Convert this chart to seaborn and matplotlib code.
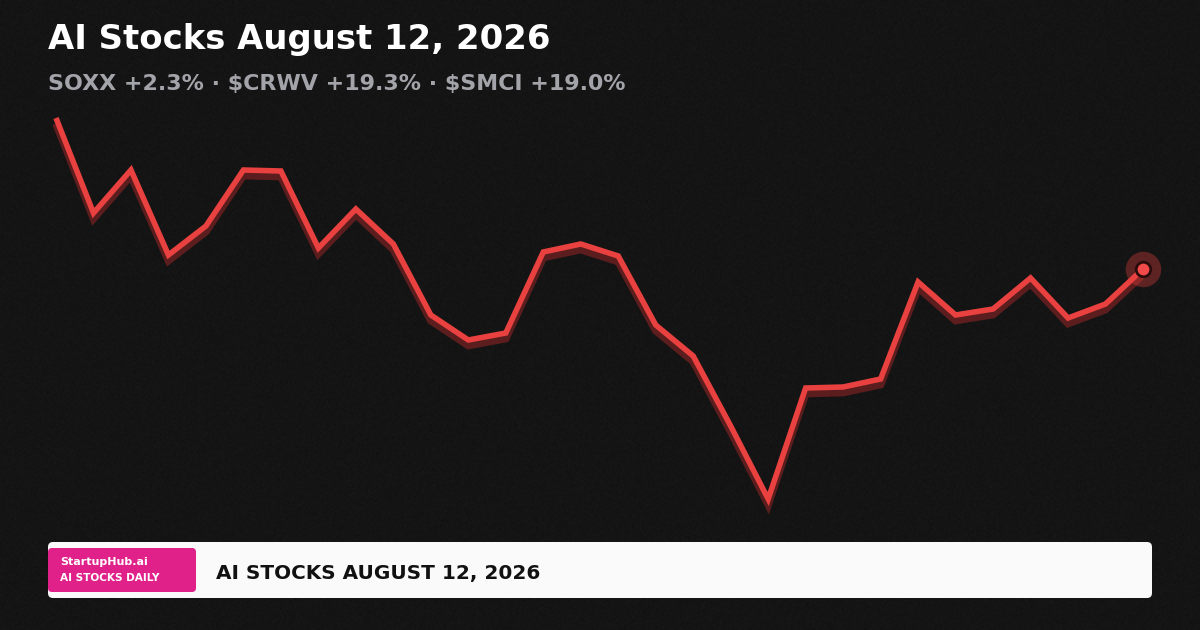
import numpy as np
import pandas as pd
import seaborn as sns
import matplotlib.pyplot as plt
import matplotlib.patheffects as pe
from matplotlib.patches import FancyBboxPatch

# chart data: 30 sessions, index level
session = list(range(1, 31))
level = [51.2, 41.7, 46.0, 37.5, 40.4, 46.0, 45.9, 38.2, 42.1, 38.6,
         31.5, 29.0, 29.7, 37.8, 38.6, 37.4, 30.5, 27.4, 20.4, 13.1,
         24.2, 24.3, 25.1, 34.8, 31.5, 32.1, 35.2, 31.2, 32.6, 36.1]

title = "AI Stocks August 12, 2026"
subtitle = "SOXX +2.3% · $CRWV +19.3% · $SMCI +19.0%"
footer = "AI STOCKS AUGUST 12, 2026"

bg = "#111111"
red = "#e8413f"

sns.set_theme(style="white")
plt.rcParams['font.family'] = ['DejaVu Sans']
plt.rcParams['text.parse_math'] = False

fig = plt.figure(figsize=(12, 6.3), dpi=100, facecolor=bg)

# faint grain on the background
bgax = fig.add_axes([0, 0, 1, 1], zorder=0)
rng = np.random.default_rng(3)
grain = rng.normal(0, 1, (315, 600))
bgax.imshow(grain, cmap="gray", alpha=0.035, aspect="auto", extent=[0, 1, 0, 1])
bgax.set_facecolor(bg)
bgax.axis("off")

df = pd.DataFrame({"session": session, "level": level})

# axes spanning x 56..1143 px, y 118..499 px (top-down)
ax = fig.add_axes([56 / 1200, 1 - 499 / 630, (1143 - 56) / 1200, (499 - 118) / 630], zorder=2)
ax.set_facecolor("none")
sns.lineplot(data=df, x="session", y="level", ax=ax, color=red, linewidth=4,
             solid_joinstyle="miter", solid_capstyle="butt", clip_on=False,
             path_effects=[pe.SimpleLineShadow(offset=(0, -4), shadow_color="#6e2020", alpha=0.8, linewidth=5.5),
                           pe.Normal()])
ax.set_xlim(session[0], session[-1])
ax.set_ylim(min(level), max(level))
ax.scatter([session[-1]], [level[-1]], s=650, color="#e8413f", alpha=0.35, lw=0, zorder=4, clip_on=False)
ax.scatter([session[-1]], [level[-1]], s=110, color="#f24a48", edgecolor="#2a0c0c", lw=2, zorder=5, clip_on=False)
ax.axis("off")

fig.text(48 / 1200, 1 - 40 / 630, title, color="white", fontsize=24.4, fontweight="bold", va="center", ha="left")
fig.text(48 / 1200, 1 - 84 / 630, subtitle, color="#a3a3aa", fontsize=15.9, fontweight="bold", va="center", ha="left")

# footer bar
fax = fig.add_axes([0, 0, 1, 1], zorder=3)
fax.set_xlim(0, 1200)
fax.set_ylim(630, 0)
fax.axis("off")
fax.add_patch(FancyBboxPatch((48, 542), 1104, 56, boxstyle="round,pad=0,rounding_size=5",
                             fc="#fafafa", ec="none"))
fax.add_patch(FancyBboxPatch((48, 548), 148, 44, boxstyle="round,pad=0,rounding_size=4",
                             fc="#e0218a", ec="none"))
fax.text(60, 562, "StartupHub.ai", color="white", fontsize=8, fontweight="bold", va="center", ha="left")
fax.text(60, 578, "AI STOCKS DAILY", color="white", fontsize=7.6,
         fontweight="bold", va="center", ha="left")
fax.text(216, 573, footer, color="#111111", fontsize=14.4, fontweight="bold", va="center", ha="left")

fig.savefig("out.png", dpi=100, facecolor=bg)
